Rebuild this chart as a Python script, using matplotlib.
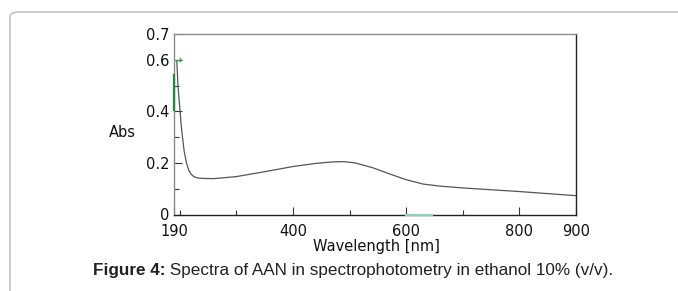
import matplotlib
matplotlib.use("Agg")
import matplotlib.pyplot as plt
from matplotlib.patches import FancyBboxPatch

plt.rcParams['font.family'] = ['DejaVu Sans']

# Spectrum data (wavelength nm, absorbance)
wavelength = [195, 197, 200, 203, 205, 208, 212, 216, 220, 225, 231, 240, 260, 300,
              350, 400, 440, 470, 490, 510, 540, 570, 600, 630, 660, 700, 750, 800, 850, 900]
absorbance = [0.595, 0.50, 0.42, 0.34, 0.30, 0.245, 0.20, 0.172, 0.157, 0.147, 0.142, 0.140, 0.139, 0.147,
              0.166, 0.186, 0.198, 0.204, 0.205, 0.200, 0.182, 0.158, 0.135, 0.118, 0.110, 0.103, 0.096, 0.089, 0.081, 0.073]

major_xticks = [190, 400, 600, 800, 900]
minor_xticks = [200, 300, 500, 700]
major_yticks = [0, 0.2, 0.4, 0.6, 0.7]
ytick_labels = ["0", "0.2", "0.4", "0.6", "0.7"]
minor_yticks = [0.1, 0.3, 0.5]

# Small green instrument marks
marker_h = (190, 201, 0.6)        # horizontal marker x-range at y
marker_v = (190, 0.405, 0.54)     # vertical marker along left axis
marker_b = (600, 645, 0.0)        # light segment on bottom axis

caption_bold = "Figure 4:"
caption_rest = " Spectra of AAN in spectrophotometry in ethanol 10% (v/v)."

W, H = 678, 291
fig = plt.figure(figsize=(W / 100, H / 100), dpi=100)

# page border (rounded box)
border = FancyBboxPatch((10 / W, -0.1), 1.2, 1.1 - 12 / H,
                        boxstyle="round,pad=0,rounding_size=0.015",
                        transform=fig.transFigure, fill=False,
                        edgecolor="#c4c4c4", linewidth=1.2)
fig.add_artist(border)

ax = fig.add_axes([174 / W, 1 - 214.5 / H, 402 / W, (214.5 - 34) / H])
ax.plot(wavelength, absorbance, color="#555555", linewidth=0.9)

ax.plot([marker_h[0], marker_h[1]], [marker_h[2], marker_h[2]], color="#2e9e55", linewidth=1.0)
ax.plot([marker_h[1], marker_h[1]], [marker_h[2] - 0.006, marker_h[2] + 0.006], color="#2e9e55", linewidth=1.0)
ax.plot([marker_v[0], marker_v[0]], [marker_v[1], marker_v[2]], color="#1f8a3c", linewidth=1.6,
        clip_on=False, zorder=5)
ax.plot([marker_b[0], marker_b[1]], [marker_b[2], marker_b[2]], color="#8fd3b0", linewidth=1.6,
        clip_on=False, zorder=5)

ax.set_xlim(190, 900)
ax.set_ylim(0, 0.7)
ax.set_xticks(major_xticks)
ax.set_xticklabels([str(v) for v in major_xticks])
ax.set_xticks(minor_xticks, minor=True)
ax.set_yticks(major_yticks)
ax.set_yticklabels(ytick_labels)
ax.set_yticks(minor_yticks, minor=True)

ax.tick_params(axis='both', which='major', direction='in', length=6, width=0.8,
               labelsize=10.5, color="#333333", labelcolor="#111111")
ax.tick_params(axis='both', which='minor', direction='in', length=3.5, width=0.8, color="#333333")
ax.tick_params(axis='x', which='major', pad=6.5)
ax.tick_params(axis='y', which='major', pad=3)

for side in ["top", "left"]:
    ax.spines[side].set_color("#8a8a8a")
for side in ["right", "bottom"]:
    ax.spines[side].set_color("#222222")
for s in ax.spines.values():
    s.set_linewidth(1.0)

fig.text(109 / W, 1 - 133 / H, "Abs", fontsize=10.5, ha="left", va="center", color="#111111")
fig.text(376 / W, 1 - 246 / H, "Wavelength [nm]", fontsize=10.5, ha="center", va="center", color="#111111")

# caption: bold + regular, centered as a whole
cap_size = 12.3
t1 = fig.text(0, 1 - 271 / H, caption_bold, fontsize=cap_size, fontweight="bold",
              family="Liberation Sans", ha="left", va="center", color="#222222")
t2 = fig.text(0, 1 - 271 / H, caption_rest, fontsize=cap_size,
              family="Liberation Sans", ha="left", va="center", color="#222222")
fig.canvas.draw()
r = fig.canvas.get_renderer()
w1 = t1.get_window_extent(r).width
w2 = t2.get_window_extent(r).width
x0 = 353 - (w1 + w2) / 2
t1.set_x(x0 / W)
t2.set_x((x0 + w1) / W)

fig.savefig("out.png", dpi=100)
